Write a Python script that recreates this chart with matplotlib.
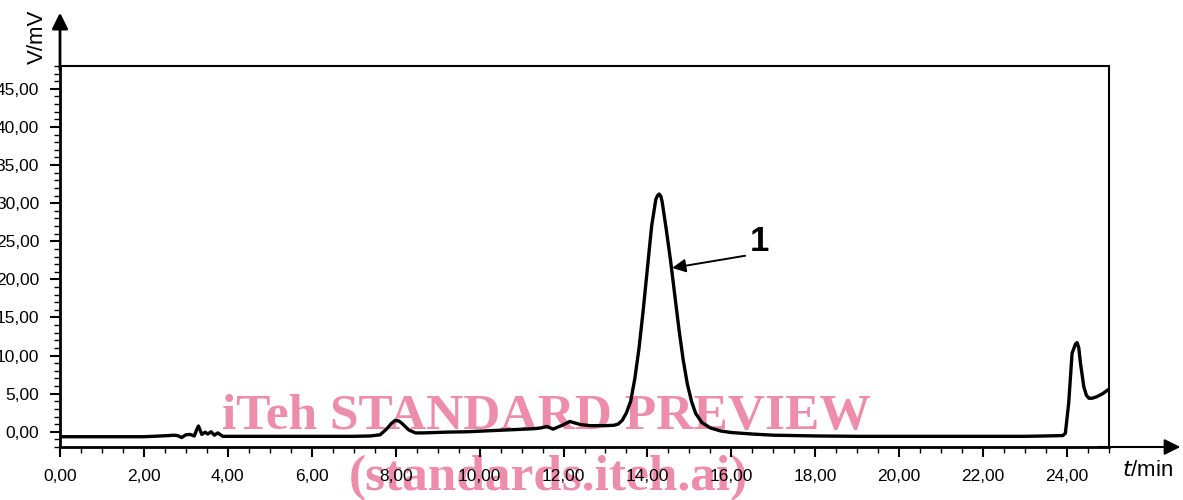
import numpy as np
import matplotlib.pyplot as plt
from matplotlib.ticker import MultipleLocator, FuncFormatter

# chromatogram trace: retention time (min) and detector signal (mV)
t_min = [0.0, 1.0, 2.0, 2.22, 2.4, 2.6, 2.7, 2.8, 2.9, 3.0, 3.1, 3.2, 3.26, 3.3,
         3.38, 3.46, 3.52, 3.6, 3.68, 3.76, 3.88, 4.2, 5.0, 6.0, 7.0, 7.4,
         7.63, 7.79, 7.9, 7.99, 8.08, 8.15, 8.31, 8.47, 8.66, 9.2, 9.7, 10.3,
         10.9, 11.3, 11.46, 11.6, 11.75, 11.99, 12.15, 12.4, 12.63, 12.87,
         13.0, 13.2, 13.3, 13.4, 13.5, 13.6, 13.7, 13.8, 13.9, 14.0, 14.1,
         14.2, 14.24, 14.28, 14.32, 14.35, 14.45, 14.55, 14.65, 14.75, 14.85,
         14.95, 15.05, 15.15, 15.3, 15.5, 15.75, 16.0, 16.5, 17.0, 18.0, 19.0,
         20.0, 21.0, 22.0, 23.0, 23.5, 23.9, 23.96, 24.04, 24.12, 24.2, 24.24,
         24.28, 24.32, 24.4, 24.46, 24.52, 24.6, 24.71, 24.85, 25.0]
signal_mv = [-0.65, -0.65, -0.65, -0.6, -0.55, -0.5, -0.45, -0.5, -0.75, -0.4,
             -0.35, -0.55, 0.3, 0.75, -0.35, -0.05, -0.3, 0.0, -0.45, -0.15,
             -0.6, -0.6, -0.6, -0.6, -0.6, -0.55, -0.4, 0.4, 1.1, 1.5, 1.4,
             1.1, 0.25, -0.15, -0.15, -0.05, 0.0, 0.15, 0.3, 0.4, 0.5, 0.7,
             0.35, 0.9, 1.35, 0.95, 0.8, 0.8, 0.8, 0.85, 1.0, 1.5, 2.5, 4.0,
             7.0, 11.0, 16.0, 21.5, 27.0, 30.5, 31.0, 31.2, 30.9, 30.2, 26.5,
             22.5, 18.0, 13.5, 9.5, 6.3, 4.0, 2.4, 1.2, 0.5, 0.1, -0.1, -0.3,
             -0.45, -0.55, -0.6, -0.6, -0.6, -0.6, -0.6, -0.55, -0.5, -0.2, 3.8,
             10.3, 11.5, 11.7, 11.0, 9.0, 5.9, 4.8, 4.4, 4.4, 4.6, 5.0, 5.6]

peak_label = "1"
peak_xy = (14.59, 21.5)
tail_xy = (16.33, 23.1)

W, H = 1183, 500
fig = plt.figure(figsize=(W / 100, H / 100), dpi=100)
fig.patch.set_facecolor("white")
ax = fig.add_axes([60 / W, 1 - 447 / H, (1109 - 60) / W, (447 - 66) / H])
ax.patch.set_alpha(0)

ax.plot(t_min, signal_mv, color="black", lw=2.4, solid_joinstyle="round")
ax.set_xlim(0, 25)
ax.set_ylim(-2, 48)

ax.xaxis.set_major_locator(MultipleLocator(2))
ax.xaxis.set_minor_locator(MultipleLocator(0.5))
ax.yaxis.set_major_locator(MultipleLocator(5))
ax.yaxis.set_minor_locator(MultipleLocator(1))
comma = FuncFormatter(lambda v, p: f"{v:.2f}".replace(".", ","))
ax.xaxis.set_major_formatter(comma)
ax.yaxis.set_major_formatter(comma)
ax.tick_params(which="major", length=7, width=1.5, labelsize=12.5)
ax.tick_params(axis="y", which="major", pad=8)
ax.tick_params(axis="x", which="major", pad=9)
ax.tick_params(which="minor", length=4, width=1.0)
for lab in ax.get_xticklabels() + ax.get_yticklabels():
    lab.set_family("Liberation Sans")

for side in ["left", "bottom"]:
    ax.spines[side].set_linewidth(2)
for side in ["top", "right"]:
    ax.spines[side].set_linewidth(1.5)

# axis arrows
ax.annotate("", xy=(1.068, 0), xytext=(0.99, 0), xycoords="axes fraction",
            arrowprops=dict(arrowstyle="-|>", color="black", lw=1.5,
                            mutation_scale=24, shrinkA=0, shrinkB=0),
            annotation_clip=False)
ax.annotate("", xy=(0, 1.14), xytext=(0, 0.99), xycoords="axes fraction",
            arrowprops=dict(arrowstyle="-|>", color="black", lw=2,
                            mutation_scale=24, shrinkA=0, shrinkB=0),
            annotation_clip=False)

fig.text(37 / W, 1 - 37 / H, "V/mV", rotation=90, ha="center", va="center",
         fontsize=16, family="Liberation Sans")
fig.text(1122 / W, 1 - 470 / H, r"$\it{t}$/min", ha="left", va="center",
         fontsize=16, family="Liberation Sans")

# peak marker
ax.annotate("", xy=peak_xy, xytext=tail_xy,
            arrowprops=dict(arrowstyle="-|>", color="black", lw=1.4,
                            mutation_scale=20, shrinkA=0, shrinkB=0))
ax.text(tail_xy[0] + 0.1, tail_xy[1] - 0.3, peak_label, fontsize=25,
        fontweight="bold", family="Liberation Sans", ha="left", va="bottom")

# watermark behind the plot
wm = "#ee8dab"
fig.text(546 / W, 1 - 417 / H, "iTeh STANDARD PREVIEW", ha="center",
         va="center", fontsize=37, fontweight="bold", family="Liberation Serif",
         color=wm, zorder=-1)
fig.text(548 / W, 1 - 478 / H, "(standards.iteh.ai)", ha="center",
         va="center", fontsize=37, fontweight="bold", family="Liberation Serif",
         color=wm, zorder=-1)

fig.savefig("out.png", dpi=100)
